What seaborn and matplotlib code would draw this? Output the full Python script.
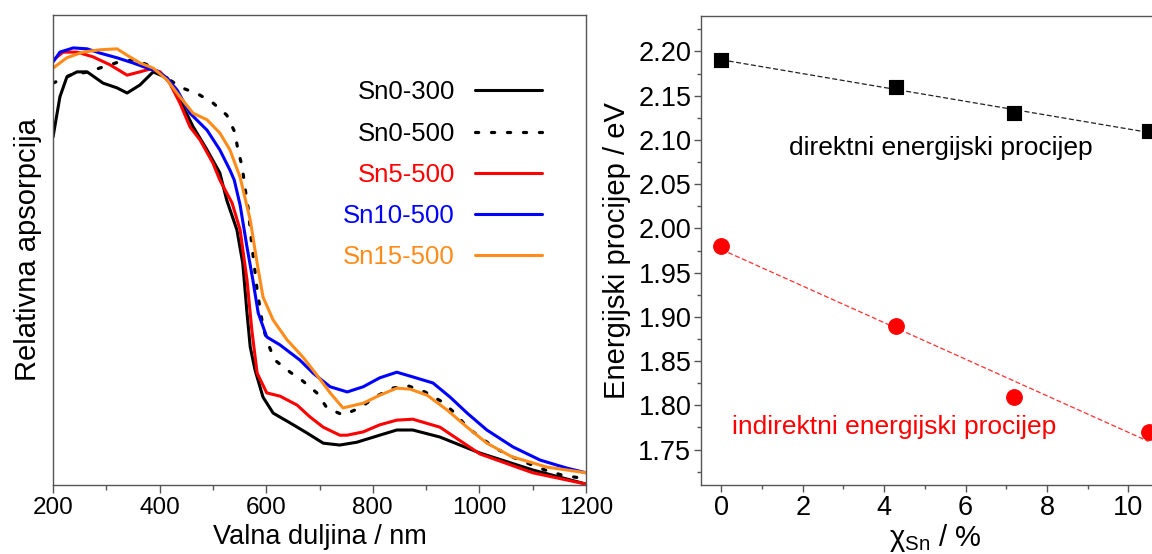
import numpy as np
import pandas as pd
import matplotlib
matplotlib.use("Agg")
import matplotlib.pyplot as plt
import seaborn as sns
from matplotlib.ticker import MultipleLocator

# ---------------- data: left panel (absorption spectra, relative units) ----------------
wl_sn0_300 = [200, 213, 226, 245, 264, 294, 320, 339, 363, 388, 414, 438, 463, 489, 513, 526, 545, 556,
              564, 570, 579, 594, 613, 645, 676, 707, 738, 770, 813, 845, 875, 926, 1001, 1100, 1200]
ab_sn0_300 = [0.740, 0.826, 0.868, 0.879, 0.879, 0.855, 0.845, 0.834, 0.851, 0.879, 0.866, 0.819, 0.762,
              0.713, 0.664, 0.606, 0.543, 0.472, 0.366, 0.294, 0.245, 0.187, 0.153, 0.132, 0.111, 0.089,
              0.085, 0.091, 0.106, 0.117, 0.117, 0.102, 0.068, 0.032, 0.002]

wl_sn0_500 = [200, 232, 266, 298, 329, 358, 382, 395, 416, 442, 472, 500, 526, 541, 547, 555, 560, 566,
              573, 583, 594, 603, 616, 645, 669, 695, 714, 744, 776, 804, 836, 866, 898, 930, 954, 977,
              1001, 1029, 1061, 1089, 1123, 1155, 1189, 1200]
ab_sn0_500 = [0.855, 0.872, 0.879, 0.891, 0.902, 0.904, 0.891, 0.881, 0.864, 0.845, 0.832, 0.813, 0.787,
              0.751, 0.713, 0.677, 0.634, 0.590, 0.511, 0.415, 0.336, 0.302, 0.266, 0.240, 0.221, 0.196,
              0.164, 0.149, 0.164, 0.187, 0.206, 0.211, 0.198, 0.177, 0.153, 0.123, 0.102, 0.079, 0.060,
              0.047, 0.032, 0.021, 0.015, 0.013]

wl_sn5_500 = [200, 219, 245, 275, 307, 339, 363, 382, 401, 419, 438, 457, 476, 500, 513, 536, 551, 564,
              573, 583, 601, 626, 658, 682, 707, 738, 752, 782, 813, 845, 875, 926, 1001, 1100, 1200]
ab_sn5_500 = [0.904, 0.921, 0.921, 0.911, 0.894, 0.872, 0.879, 0.885, 0.879, 0.855, 0.813, 0.762, 0.734,
              0.685, 0.649, 0.600, 0.543, 0.436, 0.330, 0.238, 0.196, 0.189, 0.170, 0.145, 0.123, 0.106,
              0.106, 0.113, 0.128, 0.138, 0.140, 0.123, 0.066, 0.026, 0.002]

wl_sn10_500 = [200, 213, 238, 264, 288, 320, 350, 382, 395, 414, 433, 457, 489, 513, 532, 540, 551, 564,
               575, 585, 601, 626, 663, 688, 720, 752, 782, 813, 845, 875, 913, 945, 977, 1014, 1063,
               1114, 1164, 1200]
ab_sn10_500 = [0.900, 0.921, 0.930, 0.928, 0.919, 0.909, 0.898, 0.885, 0.881, 0.866, 0.840, 0.791, 0.755,
               0.713, 0.670, 0.649, 0.596, 0.506, 0.436, 0.366, 0.315, 0.298, 0.266, 0.238, 0.209, 0.198,
               0.209, 0.228, 0.240, 0.230, 0.217, 0.187, 0.153, 0.117, 0.081, 0.053, 0.036, 0.026]

wl_sn15_500 = [200, 226, 256, 288, 320, 344, 363, 388, 414, 438, 463, 489, 513, 532, 551, 570, 583, 594,
               613, 639, 669, 695, 720, 744, 782, 813, 845, 870, 902, 939, 977, 1014, 1061, 1127, 1200]
ab_sn15_500 = [0.887, 0.909, 0.921, 0.926, 0.928, 0.911, 0.898, 0.887, 0.862, 0.826, 0.791, 0.777, 0.749,
               0.713, 0.655, 0.564, 0.472, 0.400, 0.351, 0.309, 0.272, 0.234, 0.196, 0.164, 0.174, 0.191,
               0.206, 0.204, 0.191, 0.160, 0.123, 0.089, 0.060, 0.038, 0.026]

series_labels = ["Sn0-300", "Sn0-500", "Sn5-500", "Sn10-500", "Sn15-500"]
series_colors = ["#000000", "#000000", "#ff0000", "#0000ff", "#ff8c1a"]

# ---------------- data: right panel (band gaps) ----------------
x_sn = [0.0, 4.3, 7.2, 10.5]
eg_direct = [2.19, 2.16, 2.13, 2.11]
eg_indirect = [1.98, 1.89, 1.81, 1.77]

left_xticks = [200, 400, 600, 800, 1000, 1200]
right_xticks = [0, 2, 4, 6, 8, 10]
right_yticks = [1.75, 1.80, 1.85, 1.90, 1.95, 2.00, 2.05, 2.10, 2.15, 2.20]

# ---------------- style ----------------
sns.set_theme(style="ticks")
plt.rcParams["font.family"] = ["Liberation Sans", "DejaVu Sans"]
plt.rcParams["mathtext.fontset"] = "custom"
plt.rcParams["mathtext.rm"] = "Liberation Sans"
plt.rcParams["mathtext.it"] = "Liberation Sans:italic"
plt.rcParams["text.color"] = "black"
plt.rcParams["axes.labelcolor"] = "black"
plt.rcParams["xtick.labelcolor"] = "black"
plt.rcParams["ytick.labelcolor"] = "black"
frame_col = "#555555"

fig = plt.figure(figsize=(11.52, 5.54), dpi=100)
ax1 = fig.add_axes([53 / 1152, 69 / 554, 533 / 1152, 470 / 554])
ax2 = fig.add_axes([701 / 1152, 69 / 554, 468 / 1152, 469 / 554])

# ---------------- left panel ----------------
spectra = [(wl_sn0_300, ab_sn0_300), (wl_sn0_500, ab_sn0_500), (wl_sn5_500, ab_sn5_500),
           (wl_sn10_500, ab_sn10_500), (wl_sn15_500, ab_sn15_500)]
for (wl, ab), lab, col in zip(spectra, series_labels, series_colors):
    df = pd.DataFrame({"wl": wl, "ab": ab})
    if lab == "Sn0-500":
        sns.lineplot(data=df, x="wl", y="ab", ax=ax1, color=col, lw=2.3, label=lab,
                     linestyle=(0, (1, 4.0)), dash_capstyle="round", sort=False)
    else:
        sns.lineplot(data=df, x="wl", y="ab", ax=ax1, color=col, lw=2.2, label=lab, sort=False,
                     solid_joinstyle="round")

ax1.set_xlim(200, 1200)
ax1.set_ylim(0, 1)
ax1.set_xticks(left_xticks)
ax1.xaxis.set_minor_locator(MultipleLocator(100))
ax1.set_yticks([])
ax1.set_xlabel("Valna duljina / nm", fontsize=19.5, labelpad=3)
ax1.set_ylabel("Relativna apsorpcija", fontsize=21, labelpad=8)
ax1.tick_params(axis="x", which="major", direction="out", length=6, width=1, labelsize=17.5,
                color=frame_col, pad=3)
ax1.tick_params(axis="x", which="minor", direction="out", length=3.5, width=1, color=frame_col)
for sp in ax1.spines.values():
    sp.set_color(frame_col)
    sp.set_linewidth(1.0)

handles, labels = ax1.get_legend_handles_labels()
leg = ax1.legend(handles, labels, loc="upper right", bbox_to_anchor=(0.918, 0.861),
                 frameon=False, markerfirst=False, fontsize=18.5, handlelength=2.6,
                 handletextpad=0.8, labelspacing=0.67, borderpad=0, borderaxespad=0,
                 labelcolor=series_colors)

# ---------------- right panel ----------------
df_r = pd.DataFrame({"x": x_sn, "direct": eg_direct, "indirect": eg_indirect})
xfit = np.array([min(x_sn), max(x_sn)])
p_d = np.polyfit(df_r["x"], df_r["direct"], 1)
p_i = np.polyfit(df_r["x"], df_r["indirect"], 1)
sns.lineplot(x=xfit, y=np.polyval(p_d, xfit), ax=ax2, color="#222222", lw=0.9,
             linestyle=(0, (4, 2)))
sns.lineplot(x=xfit, y=np.polyval(p_i, xfit), ax=ax2, color="#ff3030", lw=0.9,
             linestyle=(0, (4, 2)))
sns.scatterplot(data=df_r, x="x", y="direct", ax=ax2, marker="s", s=105, color="#000000",
                edgecolor="#000000", zorder=5)
sns.scatterplot(data=df_r, x="x", y="indirect", ax=ax2, marker="o", s=125, color="#ff0000",
                edgecolor="#ff0000", zorder=5)

ax2.text(5.4, 2.091, "direktni energijski procijep", fontsize=19, color="#000000",
         ha="center", va="center")
ax2.text(4.25, 1.775, "indirektni energijski procijep", fontsize=19, color="#ff0000",
         ha="center", va="center")

ax2.set_xlim(-0.5, 11.0)
ax2.set_ylim(1.71, 2.24)
ax2.set_xticks(right_xticks)
ax2.set_yticks(right_yticks)
ax2.set_yticklabels([f"{v:.2f}" for v in right_yticks])
ax2.xaxis.set_minor_locator(MultipleLocator(1))
ax2.yaxis.set_minor_locator(MultipleLocator(0.025))
ax2.set_xlabel("χ$_{\\mathrm{Sn}}$ / %", fontsize=21, labelpad=1)
ax2.set_ylabel("Energijski procijep / eV", fontsize=21, labelpad=5)
ax2.tick_params(axis="both", which="major", direction="out", length=5, width=1, labelsize=19.5,
                color=frame_col, pad=2)
ax2.tick_params(axis="both", which="minor", direction="out", length=3, width=1, color=frame_col)
for sp in ax2.spines.values():
    sp.set_color(frame_col)
    sp.set_linewidth(1.0)

fig.savefig("out.png", dpi=100)
